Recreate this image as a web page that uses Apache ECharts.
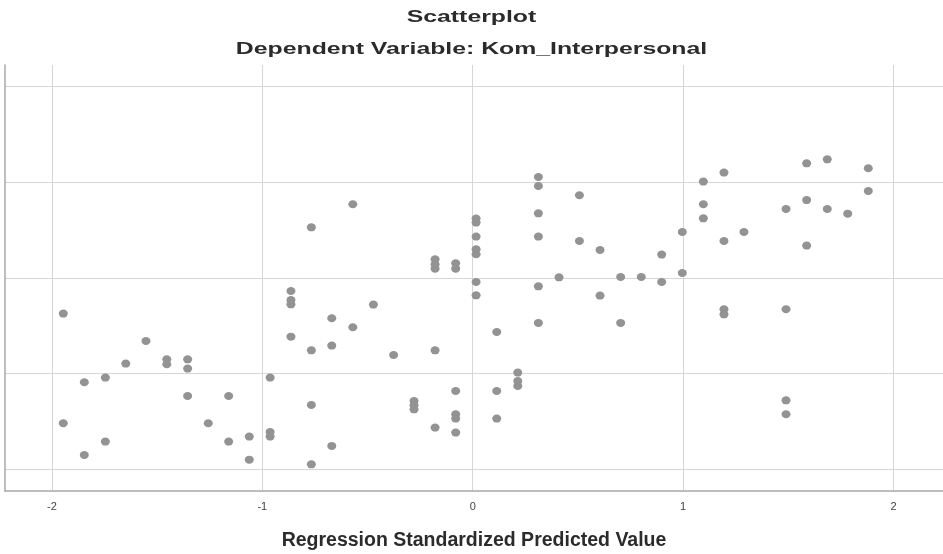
<!DOCTYPE html>
<html>
<head>
<meta charset="utf-8">
<script src="https://cdn.jsdelivr.net/npm/echarts@6/dist/echarts.min.js"></script>
<style>html,body{margin:0;padding:0;background:#fff}#c{width:943px;height:554px}</style>
</head>
<body>
<div id="c"></div>
<script>
const chartTitle = 'Scatterplot';
const chartSubtitle = 'Dependent Variable: Kom_Interpersonal';
const xAxisTitle = 'Regression Standardized Predicted Value';

// Regression Standardized Predicted Value (x)
const predicted = [
  -1.946, -1.946,
  -1.846, -1.846,
  -1.746, -1.746,
  -1.649,
  -1.553,
  -1.454, -1.454,
  -1.355, -1.355, -1.355,
  -1.257,
  -1.160, -1.160,
  -1.062, -1.062,
  -0.963, -0.963, -0.963,
  -0.864, -0.864, -0.864, -0.864,
  -0.767, -0.767, -0.767, -0.767,
  -0.670, -0.670, -0.670,
  -0.570, -0.570,
  -0.472,
  -0.376,
  -0.279, -0.279, -0.279,
  -0.179, -0.179, -0.179, -0.179, -0.179,
  -0.081, -0.081, -0.081, -0.081, -0.081, -0.081,
  0.016, 0.016, 0.016, 0.016, 0.016, 0.016, 0.016,
  0.114, 0.114, 0.114,
  0.214, 0.214, 0.214,
  0.312, 0.312, 0.312, 0.312, 0.312, 0.312,
  0.410,
  0.507, 0.507,
  0.605, 0.605,
  0.703, 0.703,
  0.801,
  0.898, 0.898,
  0.996, 0.996,
  1.096, 1.096, 1.096,
  1.194, 1.194, 1.194, 1.194,
  1.289,
  1.489, 1.489, 1.489, 1.489,
  1.587, 1.587, 1.587,
  1.685, 1.685,
  1.782,
  1.880, 1.880
];

// Dependent variable (vertical position, in gridline units)
const observed = [
  -0.372, -1.519,
  -1.090, -1.851,
  -1.041, -1.710,
  -0.895,
  -0.659,
  -0.850, -0.902,
  -0.850, -0.947, -1.234,
  -1.519,
  -1.234, -1.710,
  -1.658, -1.899,
  -1.041, -1.610, -1.658,
  -0.136, -0.230, -0.275, -0.613,
  0.530, -0.756, -1.328, -1.948,
  -0.421, -0.707, -1.756,
  0.771, -0.515,
  -0.278,
  -0.805,
  -1.286, -1.331, -1.373,
  0.196, 0.143, 0.098, -0.756, -1.564,
  0.154, 0.098, -1.181, -1.425, -1.470, -1.616,
  0.621, 0.579, 0.433, 0.300, 0.248, -0.042, -0.181,
  -0.565, -1.181, -1.470,
  -0.989, -1.077, -1.129,
  1.056, 0.962, 0.676, 0.433, -0.087, -0.470,
  0.007,
  0.865, 0.387,
  0.293, -0.184,
  0.010, -0.470,
  0.010,
  0.245, -0.042,
  0.481, 0.052,
  1.008, 0.771, 0.624,
  1.102, 0.387, -0.327, -0.380,
  0.481,
  0.721, -0.327, -1.279, -1.425,
  1.199, 0.815, 0.339,
  1.241, 0.721,
  0.673,
  1.147, 0.910
];

const xRange = [-2.223, 2.235];
const yRange = [-2.227, 2.227];

const points = predicted.map((x, i) => [x, observed[i]]);

const chart = echarts.init(document.getElementById('c'), null, {renderer: 'canvas'});
const font = '"Liberation Sans", Arial, sans-serif';
chart.setOption({
  animation: false,
  backgroundColor: '#ffffff',
  graphic: [
    {type: 'text', x: 471.5, y: 18, scaleX: 1.55, silent: true,
     style: {text: chartTitle, x: 0, y: 0, align: 'center', verticalAlign: 'middle',
       font: 'bold 16px "Liberation Sans", Arial, sans-serif', fill: '#2b2b2b'}},
    {type: 'text', x: 471.5, y: 50, scaleX: 1.55, silent: true,
     style: {text: chartSubtitle, x: 0, y: 0, align: 'center', verticalAlign: 'middle',
       font: 'bold 16px "Liberation Sans", Arial, sans-serif', fill: '#2b2b2b'}}
  ],
  grid: {left: 5, right: 0, top: 65, bottom: 63, outerBoundsMode: 'none', containLabel: false},
  xAxis: {
    type: 'value', min: xRange[0], max: xRange[1], splitNumber: 5,
    name: xAxisTitle, nameLocation: 'middle', nameGap: 40,
    nameTextStyle: {fontFamily: font, fontSize: 19.5, fontWeight: 'bold', color: '#2b2b2b'},
    axisLine: {show: true, onZero: false, lineStyle: {color: '#a8a8a8', width: 1.5}},
    axisTick: {show: false},
    axisLabel: {show: true, showMinLabel: false, showMaxLabel: false, margin: 10,
      fontFamily: font, fontSize: 11, color: '#444'},
    splitLine: {show: true, showMinLine: false, showMaxLine: false, lineStyle: {color: '#d6d6d6', width: 1}}
  },
  yAxis: {
    type: 'value', min: yRange[0], max: yRange[1], splitNumber: 5,
    axisLine: {show: true, onZero: false, lineStyle: {color: '#a8a8a8', width: 1.5}},
    axisTick: {show: false},
    axisLabel: {show: false},
    splitLine: {show: true, showMinLine: false, showMaxLine: false, lineStyle: {color: '#d6d6d6', width: 1}}
  },
  series: [{
    type: 'scatter',
    data: points,
    symbol: 'circle',
    symbolSize: [9, 8],
    itemStyle: {color: '#939393', opacity: 1},
    silent: true
  }]
});
</script>
</body>
</html>
